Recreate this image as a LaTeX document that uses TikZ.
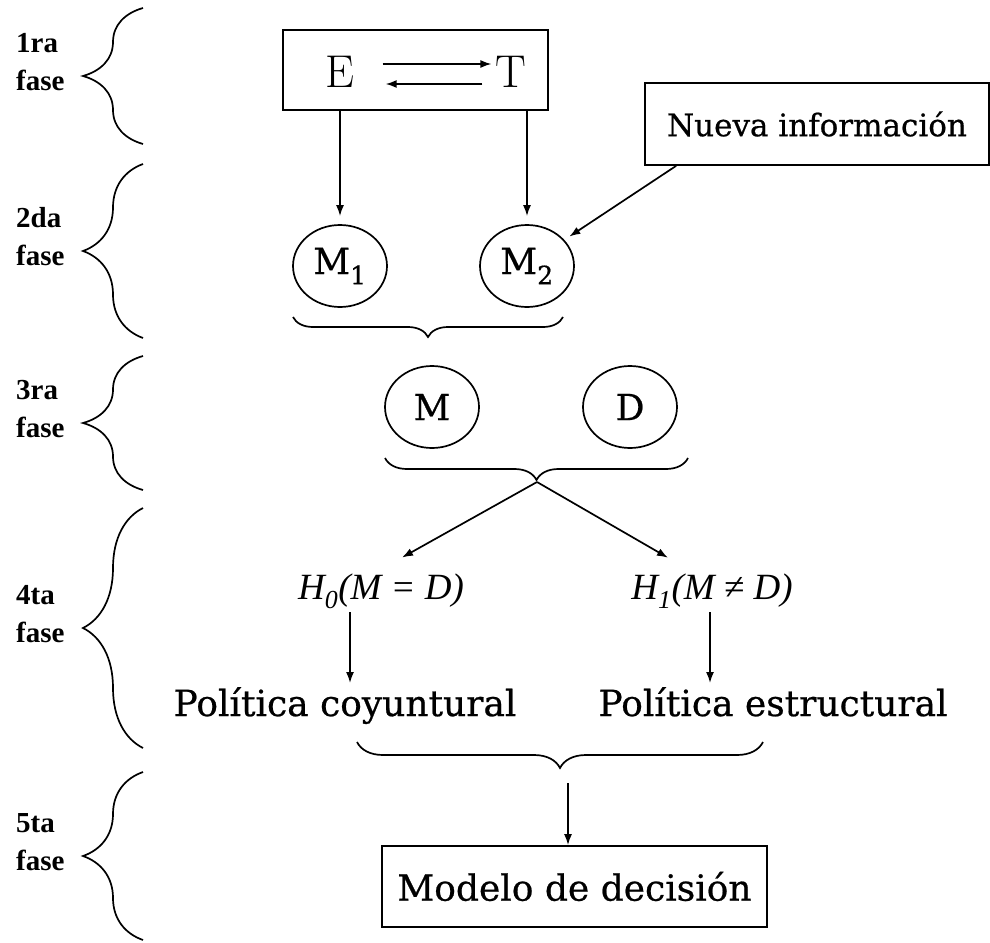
\documentclass[tikz,border=0pt]{standalone}
\usepackage{fontspec}
\newfontfamily\cent[FakeBold=0.6]{DejaVu Serif}
\newfontfamily\tms{Liberation Serif}
\usetikzlibrary{shapes.geometric,decorations.pathreplacing,arrows.meta}
\begin{document}
\begin{tikzpicture}[x=1pt, y=-1pt, >={Latex[length=11pt,width=8pt]}, line width=1.7pt,
  fase/.style={anchor=west, align=left, font=\tms\bfseries\fontsize{29}{38}\selectfont},
  llave/.style={decorate, decoration={brace, amplitude=#1}},
  llave/.default=20,
  caja/.style={draw, rectangle, inner sep=0pt},
  elip/.style={draw, ellipse, minimum width=94, minimum height=82, inner sep=0pt, font=\cent\fontsize{36}{40}\selectfont},
  texto/.style={font=\cent\fontsize{36}{40}\selectfont},
  hipo/.style={font=\tms\itshape\fontsize{37}{40}\selectfont}]
\useasboundingbox (0,0) rectangle (990,942);

\node[fase] (f1) at (12,62) {1ra\\fase};
\node[fase] (f2) at (12,237) {2da\\fase};
\node[fase] (f3) at (12,409) {3ra\\fase};
\node[fase] (f4) at (12,614) {4ta\\fase};
\node[fase] (f5) at (12,842) {5ta\\fase};
\draw[llave=60] (143,144) -- (143,8);
\draw[llave=60] (143,338) -- (143,164);
\draw[llave=60] (143,490) -- (143,356);
\draw[llave=60] (143,748) -- (143,508);
\draw[llave=60] (143,940) -- (143,772);

\node[caja, minimum width=265, minimum height=80] (et) at (415.5,70) {};
\node[font=\fontsize{46}{50}\selectfont] (e) at (340,72) {E};
\node[font=\fontsize{46}{50}\selectfont] (t) at (511,72) {T};
\draw[->] ([xshift=24pt,yshift=8pt]e.east) -- ([yshift=8pt]t.west);
\draw[->] ([xshift=-9pt,yshift=-12pt]t.west) -- ([xshift=27pt,yshift=-12pt]e.east);

\node[caja, font=\cent\fontsize{31}{34}\selectfont, minimum width=344, minimum height=82] (nue) at (817,124) {Nueva información};

\node[elip] (m1) at (340,266) {M\textsubscript{1}};
\node[elip] (m2) at (527,266) {M\textsubscript{2}};
\draw[->, shorten >=8pt] (m1.north |- et.south) -- (m1.north);
\draw[->, shorten >=8pt] (m2.north |- et.south) -- (m2.north);
\draw[->, shorten >=6pt] ([xshift=32pt]nue.south west) -- (m2.35);
\draw[llave] (563,317) -- (293,317);

\node[elip] (m) at (432,407) {M};
\node[elip] (d) at (630,407) {D};
\draw[llave=22] (688,458) -- (385,458);
\coordinate (t3) at (537,482);

\node[hipo] (h0) at (381,591) {H\textsubscript{0}(M = D)};
\node[hipo] (h1) at (712,591) {H\textsubscript{1}(M ≠ D)};
\draw[->] (t3) -- ([xshift=21pt,yshift=12pt]h0.north);
\draw[->] (t3) -- ([xshift=-44pt,yshift=12pt]h1.north);

\node[texto, anchor=base] (pc) at (345,716) {Política coyuntural};
\node[texto, anchor=base] (pe) at (773,716) {Política estructural};
\draw[->] ([xshift=-31pt]h0.south) -- ([xshift=-31pt]h0.south |- pc.north);
\draw[->] ([xshift=-2pt]h1.south) -- ([xshift=-2pt]h1.south |- pe.north);
\draw[llave=26] (763,742) -- (357,742);

\node[caja, texto, minimum width=385, minimum height=81] (mod) at (574.5,886.5) {Modelo de decisión};
\coordinate (c4) at (568,783);
\draw[->] (c4) -- (c4 |- mod.north);
\end{tikzpicture}
\end{document}
